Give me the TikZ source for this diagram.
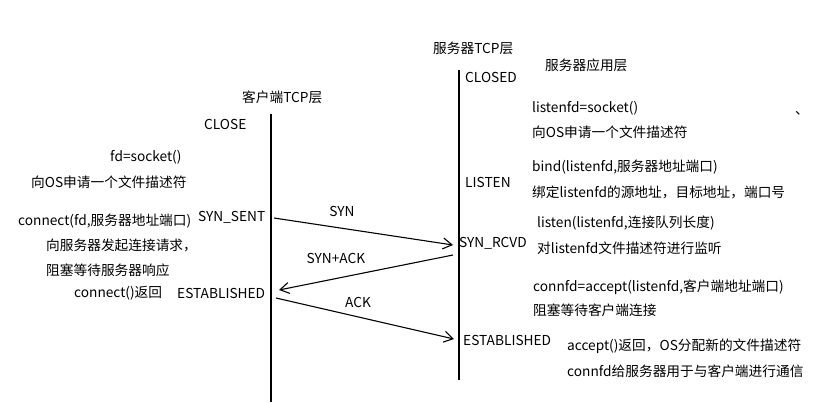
\documentclass[tikz,border=0pt]{standalone}
\usepackage{fontspec}
\setmainfont{Noto Sans CJK SC}
\usetikzlibrary{arrows.meta}
\begin{document}
\begin{tikzpicture}[x=1pt,y=-1pt,
  txt/.style={anchor=west,inner sep=0pt,font=\fontsize{13.7}{16}\selectfont},
  lifeline/.style={line width=1.4pt},
  msg/.style={line width=1.1pt,-{Straight Barb[length=9pt,width=11pt,line width=1.1pt]}}]
\useasboundingbox[fill=white] (0,0) rectangle (828,402);
% lifelines
\coordinate (c1) at (271,114);
\coordinate (c2) at (271,402);
\coordinate (s1) at (459,70);
\coordinate (s2) at (459,380);
\draw[lifeline] (c1) -- (c2);
\draw[lifeline] (s1) -- (s2);
% headers
\node[txt] (ctcp) at (242,97) {客户端TCP层};
\node[txt] (stcp) at (433,48) {服务器TCP层};
\node[txt] (sapp) at (545,65) {服务器应用层};
% client states
\node[txt] (cclose) at (204,124) {CLOSE};
\node[txt] (csent) at (198,217) {SYN\_SENT};
\node[txt] (cest) at (177,293) {ESTABLISHED};
% client app
\node[txt] (cfd) at (110,157) {fd=socket()};
\node[txt] (cfd2) at (31,182) {向OS申请一个文件描述符};
\node[txt] (ccon) at (18,221) {connect(fd,服务器地址端口)};
\node[txt] (ccon2) at (46,245) {向服务器发起连接请求，};
\node[txt] (ccon3) at (46,270) {阻塞等待服务器响应};
\node[txt] (cret) at (74,293) {connect()返回};
% server states
\node[txt] (sclosed) at (465,77) {CLOSED};
\node[txt] (slisten) at (465,182) {LISTEN};
\node[txt] (srcvd) at (459,243) {SYN\_RCVD};
\node[txt] (sest) at (463,340) {ESTABLISHED};
% server app
\node[txt] (sa1) at (532,108) {listenfd=socket()};
\node[txt] (sa2) at (532,132) {向OS申请一个文件描述符};
\node[txt] (dot) at (795,113) {、};
\node[txt] (sa3) at (532,167) {bind(listenfd,服务器地址端口)};
\node[txt] (sa4) at (532,192) {绑定listenfd的源地址，目标地址，端口号};
\node[txt] (sa5) at (537,223) {listen(listenfd,连接队列长度)};
\node[txt] (sa6) at (537,248) {对listenfd文件描述符进行监听};
\node[txt] (sa7) at (533,287) {connfd=accept(listenfd,客户端地址端口)};
\node[txt] (sa8) at (533,310) {阻塞等待客户端连接};
\node[txt] (sa9) at (567,346) {accept()返回，OS分配新的文件描述符};
\node[txt] (sa10) at (567,371) {connfd给服务器用于与客户端进行通信};
% messages
\coordinate (m1a) at (274,218);
\coordinate (m1b) at (453,245);
\coordinate (m2a) at (453,255);
\coordinate (m2b) at (279,290);
\coordinate (m3a) at (276,298);
\coordinate (m3b) at (454,339);
\draw[msg] (m1a) -- (m1b);
\draw[msg] (m2a) -- (m2b);
\draw[msg] (m3a) -- (m3b);
\node[txt,anchor=center] (lsyn) at (342,211) {SYN};
\node[txt,anchor=center] (lsynack) at (336,258) {SYN+ACK};
\node[txt,anchor=center] (lack) at (358,302) {ACK};
\end{tikzpicture}
\end{document}
